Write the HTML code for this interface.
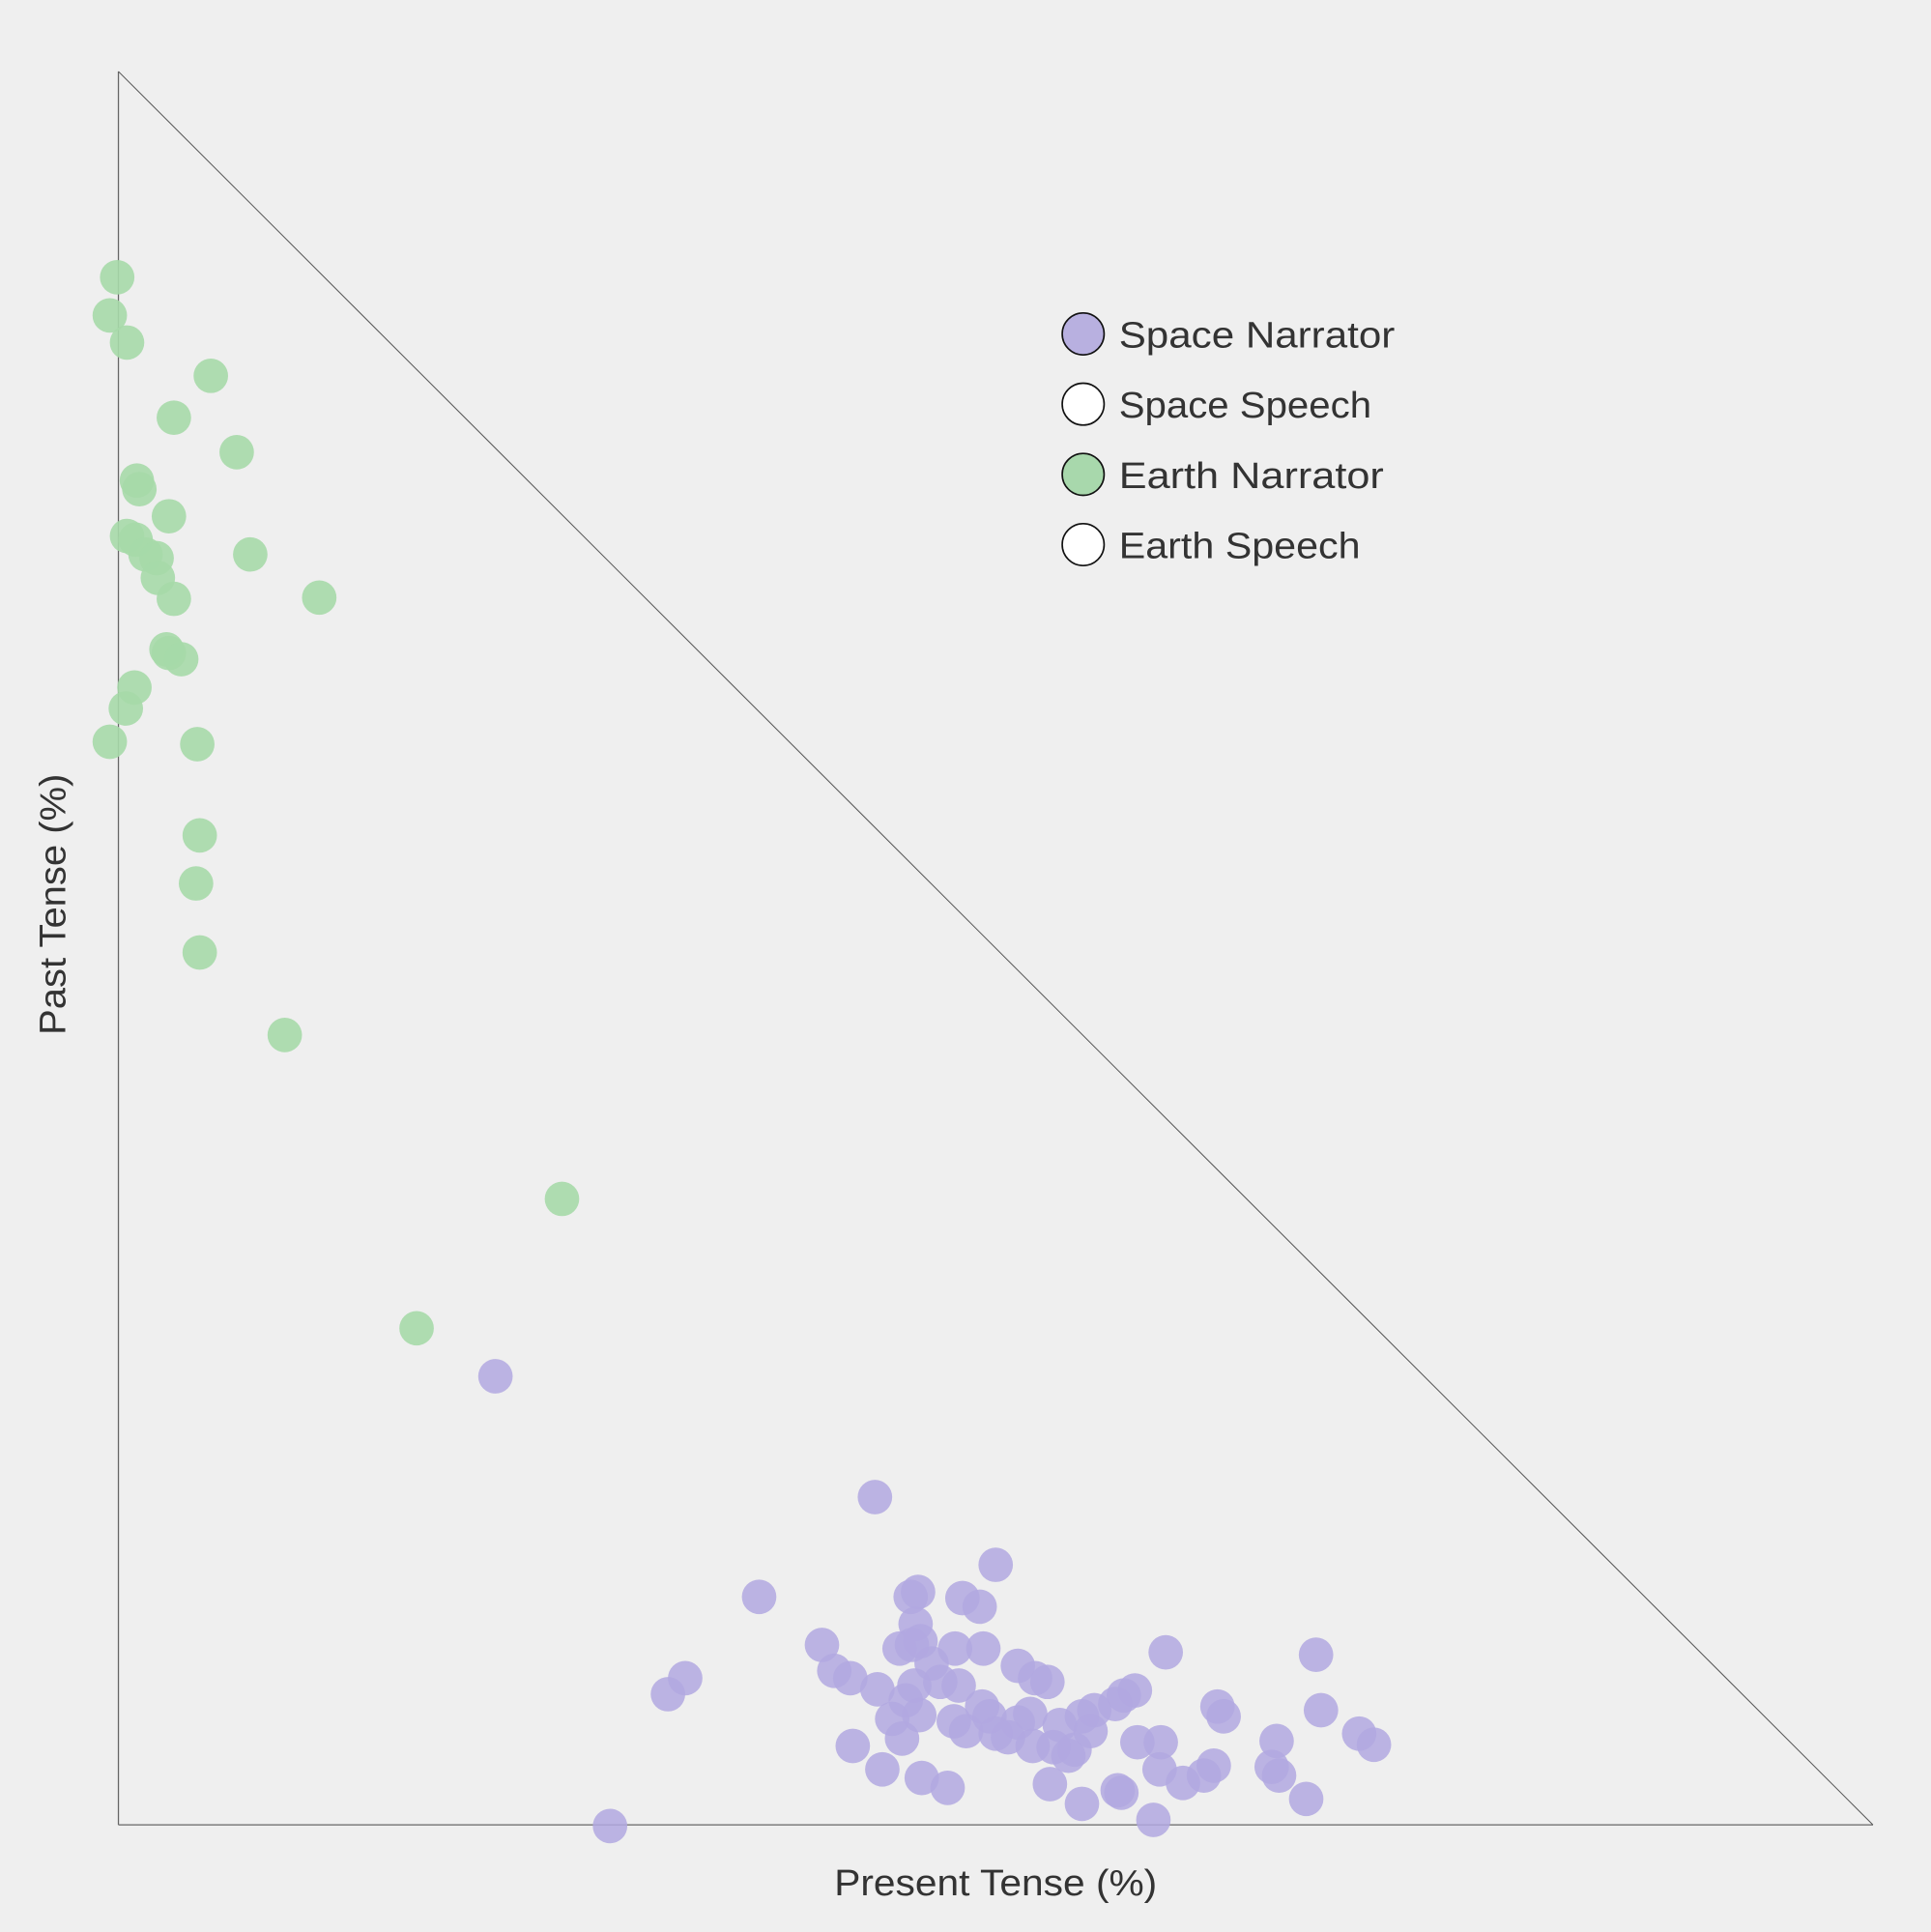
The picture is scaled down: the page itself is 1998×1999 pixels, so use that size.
<!DOCTYPE html>
<html><head><style>html,body{margin:0;padding:0;background:#efefef}svg{display:block}</style></head>
<body>
<svg width="1998" height="1999" viewBox="0 0 1567 1568" xmlns="http://www.w3.org/2000/svg">
<rect width="1567" height="1568" fill="#efefef"/>
<line x1="96" y1="58" x2="96" y2="1481" stroke="#666" stroke-width="1"/>
<line x1="96" y1="1481" x2="1520" y2="1481" stroke="#666" stroke-width="1"/>
<line x1="96" y1="58" x2="1520" y2="1481" stroke="#555" stroke-width="0.8"/>
<g fill="#a6d9a9" fill-opacity="0.9">
<circle cx="95" cy="225" r="14"/><circle cx="89" cy="256" r="14"/><circle cx="103" cy="278" r="14"/><circle cx="171" cy="305" r="14"/><circle cx="141" cy="339" r="14"/><circle cx="192" cy="367" r="14"/><circle cx="111" cy="390" r="14"/><circle cx="113" cy="397" r="14"/><circle cx="137" cy="419" r="14"/><circle cx="103" cy="435" r="14"/><circle cx="110" cy="438" r="14"/><circle cx="118" cy="450" r="14"/><circle cx="127" cy="453" r="14"/><circle cx="128" cy="469" r="14"/><circle cx="141" cy="486" r="14"/><circle cx="203" cy="450" r="14"/><circle cx="259" cy="485" r="14"/><circle cx="135" cy="527" r="14"/><circle cx="137" cy="530" r="14"/><circle cx="147" cy="535" r="14"/><circle cx="109" cy="558" r="14"/><circle cx="102" cy="575" r="14"/><circle cx="89" cy="602" r="14"/><circle cx="160" cy="604" r="14"/><circle cx="162" cy="678" r="14"/><circle cx="159" cy="717" r="14"/><circle cx="162" cy="773" r="14"/><circle cx="231" cy="840" r="14"/><circle cx="456" cy="973" r="14"/><circle cx="338" cy="1078" r="14"/>
</g>
<g fill="#b1a8e0" fill-opacity="0.85">
<circle cx="402" cy="1117" r="14"/><circle cx="710" cy="1215" r="14"/><circle cx="808" cy="1270" r="14"/><circle cx="616" cy="1296" r="14"/><circle cx="745" cy="1292" r="14"/><circle cx="739" cy="1296" r="14"/><circle cx="781" cy="1297" r="14"/><circle cx="795" cy="1304" r="14"/><circle cx="743" cy="1318" r="14"/><circle cx="667" cy="1335" r="14"/><circle cx="730" cy="1338" r="14"/><circle cx="740" cy="1335" r="14"/><circle cx="747" cy="1332" r="14"/><circle cx="798" cy="1338" r="14"/><circle cx="775" cy="1338" r="14"/><circle cx="946" cy="1341" r="14"/><circle cx="1068" cy="1343" r="14"/><circle cx="677" cy="1356" r="14"/><circle cx="690" cy="1362" r="14"/><circle cx="756" cy="1350" r="14"/><circle cx="826" cy="1352" r="14"/><circle cx="840" cy="1362" r="14"/><circle cx="850" cy="1365" r="14"/><circle cx="556" cy="1362" r="14"/><circle cx="542" cy="1375" r="14"/><circle cx="712" cy="1371" r="14"/><circle cx="742" cy="1368" r="14"/><circle cx="778" cy="1368" r="14"/><circle cx="763" cy="1365" r="14"/><circle cx="735" cy="1380" r="14"/><circle cx="921" cy="1372" r="14"/><circle cx="912" cy="1376" r="14"/><circle cx="905" cy="1383" r="14"/><circle cx="888" cy="1388" r="14"/><circle cx="988" cy="1385" r="14"/><circle cx="993" cy="1393" r="14"/><circle cx="1072" cy="1388" r="14"/><circle cx="724" cy="1395" r="14"/><circle cx="746" cy="1392" r="14"/><circle cx="774" cy="1397" r="14"/><circle cx="797" cy="1385" r="14"/><circle cx="803" cy="1393" r="14"/><circle cx="836" cy="1391" r="14"/><circle cx="826" cy="1398" r="14"/><circle cx="878" cy="1393" r="14"/><circle cx="885" cy="1405" r="14"/><circle cx="860" cy="1400" r="14"/><circle cx="784" cy="1405" r="14"/><circle cx="808" cy="1407" r="14"/><circle cx="818" cy="1410" r="14"/><circle cx="732" cy="1411" r="14"/><circle cx="692" cy="1417" r="14"/><circle cx="838" cy="1417" r="14"/><circle cx="855" cy="1418" r="14"/><circle cx="872" cy="1420" r="14"/><circle cx="867" cy="1425" r="14"/><circle cx="923" cy="1414" r="14"/><circle cx="942" cy="1414" r="14"/><circle cx="1036" cy="1413" r="14"/><circle cx="1103" cy="1407" r="14"/><circle cx="1115" cy="1416" r="14"/><circle cx="716" cy="1436" r="14"/><circle cx="748" cy="1443" r="14"/><circle cx="769" cy="1451" r="14"/><circle cx="852" cy="1448" r="14"/><circle cx="941" cy="1436" r="14"/><circle cx="960" cy="1447" r="14"/><circle cx="977" cy="1441" r="14"/><circle cx="985" cy="1433" r="14"/><circle cx="1032" cy="1434" r="14"/><circle cx="1038" cy="1441" r="14"/><circle cx="907" cy="1453" r="14"/><circle cx="910" cy="1455" r="14"/><circle cx="878" cy="1464" r="14"/><circle cx="1060" cy="1460" r="14"/><circle cx="936" cy="1477" r="14"/><circle cx="495" cy="1482" r="14"/>
</g>
<g stroke="#111" stroke-width="1.3">
<circle cx="879" cy="271" r="17" fill="#b8b0e0"/>
<circle cx="879" cy="328" r="17" fill="#fff"/>
<circle cx="879" cy="385" r="17" fill="#a8d8ac"/>
<circle cx="879" cy="442" r="17" fill="#fff"/>
</g>
<g font-family="Liberation Sans, sans-serif" font-size="30" fill="#333">
<text x="908" y="282" textLength="224" lengthAdjust="spacingAndGlyphs">Space Narrator</text>
<text x="908" y="339" textLength="205" lengthAdjust="spacingAndGlyphs">Space Speech</text>
<text x="908" y="396" textLength="215" lengthAdjust="spacingAndGlyphs">Earth Narrator</text>
<text x="908" y="453" textLength="196" lengthAdjust="spacingAndGlyphs">Earth Speech</text>
<text x="677" y="1538" textLength="262" lengthAdjust="spacingAndGlyphs">Present Tense (%)</text>
<text transform="translate(53,840) rotate(-90)" textLength="212" lengthAdjust="spacingAndGlyphs">Past Tense (%)</text>
</g>
</svg>
</body></html>
